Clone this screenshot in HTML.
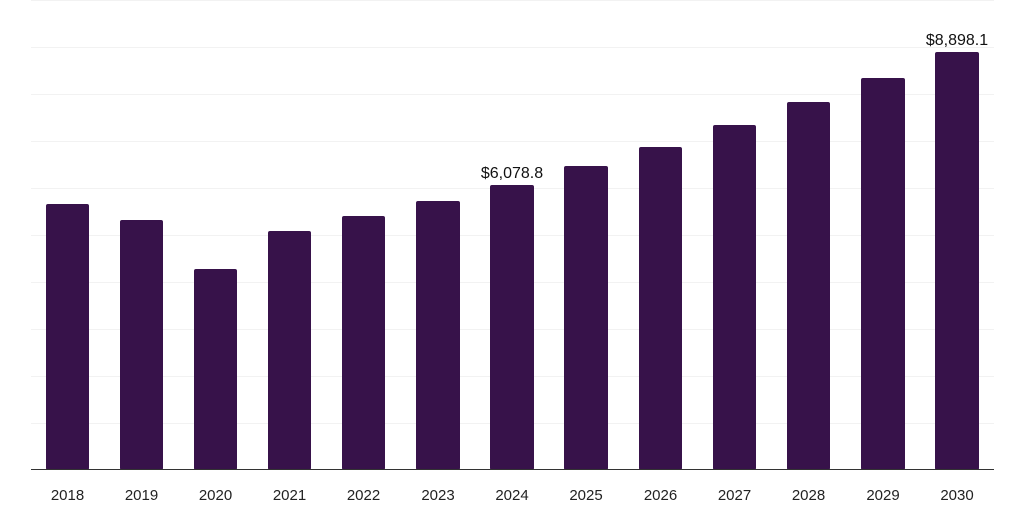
<!DOCTYPE html>
<html><head><style>body{margin:0;background:#fff;}svg{display:block}</style></head>
<body>
<svg width="1024" height="512" xmlns="http://www.w3.org/2000/svg" font-family="Liberation Sans, sans-serif">
<g stroke="#f2f2f2" stroke-width="1">
<line x1="31" x2="994" y1="0.5" y2="0.5"/>
<line x1="31" x2="994" y1="47.5" y2="47.5"/>
<line x1="31" x2="994" y1="94.5" y2="94.5"/>
<line x1="31" x2="994" y1="141.5" y2="141.5"/>
<line x1="31" x2="994" y1="188.5" y2="188.5"/>
<line x1="31" x2="994" y1="235.5" y2="235.5"/>
<line x1="31" x2="994" y1="282.5" y2="282.5"/>
<line x1="31" x2="994" y1="329.5" y2="329.5"/>
<line x1="31" x2="994" y1="376.5" y2="376.5"/>
<line x1="31" x2="994" y1="423.5" y2="423.5"/>
</g>
<g fill="#37124a">
<rect x="46" y="204" width="43" height="266" rx="2"/>
<rect x="120" y="220" width="43" height="250" rx="2"/>
<rect x="194" y="269" width="43" height="201" rx="2"/>
<rect x="268" y="231" width="43" height="239" rx="2"/>
<rect x="342" y="216" width="43" height="254" rx="2"/>
<rect x="416" y="201" width="44" height="269" rx="2"/>
<rect x="490" y="185" width="44" height="285" rx="2"/>
<rect x="564" y="166" width="44" height="304" rx="2"/>
<rect x="639" y="147" width="43" height="323" rx="2"/>
<rect x="713" y="125" width="43" height="345" rx="2"/>
<rect x="787" y="102" width="43" height="368" rx="2"/>
<rect x="861" y="78" width="44" height="392" rx="2"/>
<rect x="935" y="52" width="44" height="418" rx="2"/>
</g>
<line x1="31" x2="994" y1="469.5" y2="469.5" stroke="#333" stroke-width="1"/>
<g font-size="15" fill="#222" text-anchor="middle">
<text x="67.5" y="500">2018</text>
<text x="141.5" y="500">2019</text>
<text x="215.5" y="500">2020</text>
<text x="289.5" y="500">2021</text>
<text x="363.5" y="500">2022</text>
<text x="438" y="500">2023</text>
<text x="512" y="500">2024</text>
<text x="586" y="500">2025</text>
<text x="660.5" y="500">2026</text>
<text x="734.5" y="500">2027</text>
<text x="808.5" y="500">2028</text>
<text x="883" y="500">2029</text>
<text x="957" y="500">2030</text>
<text x="512" y="178" fill="#111" font-size="16">$6,078.8</text>
<text x="957" y="45" fill="#111" font-size="16">$8,898.1</text>
</g>
</svg>
</body></html>
